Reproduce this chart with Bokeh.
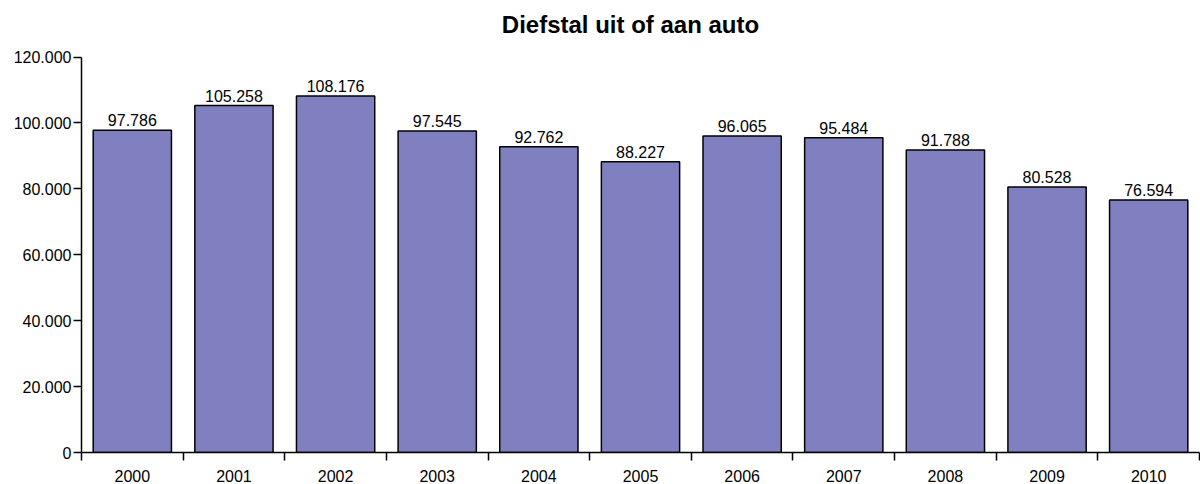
from bokeh.plotting import figure
from bokeh.models import Range1d, FixedTicker, ColumnDataSource, Label
from bokeh.core.properties import value
from bokeh.embed import file_html
from bokeh.resources import INLINE

# ---- data ----
years = ["2000", "2001", "2002", "2003", "2004", "2005", "2006", "2007", "2008", "2009", "2010"]
counts = [97786, 105258, 108176, 97545, 92762, 88227, 96065, 95484, 91788, 80528, 76594]
y_ticks = [0, 20000, 40000, 60000, 80000, 100000, 120000]
title_text = "Diefstal uit of aan auto"


def nl(v):
    return f"{v:,}".replace(",", ".")


centers = [i + 0.5 for i in range(len(years))]
bounds = list(range(len(years) + 1))
labels = [nl(v) for v in counts]

src = ColumnDataSource(dict(x=centers, top=counts, lab=labels))

FONT = "Liberation Sans"

# ---- layout (pixels) ----
W, H = 1200, 484
LEFT, RIGHT, BOTTOM = 81, 1, 28
AXIS_TOP_PX = 57               # where the value axis ends (120.000)
frame_h = H - BOTTOM           # frame runs from the very top of the canvas
axis_px = frame_h - AXIS_TOP_PX
y_max = y_ticks[-1]
y_end = y_max * frame_h / axis_px
units_per_px = y_max / axis_px

p = figure(width=W, height=H, output_backend="svg", toolbar_location=None,
           x_range=Range1d(0, len(years)), y_range=Range1d(0, y_end),
           min_border_left=LEFT, min_border_right=RIGHT, min_border_top=0,
           min_border_bottom=BOTTOM, title_location=None)
p.outline_line_color = None
p.xgrid.visible = False
p.ygrid.visible = False
p.background_fill_color = "white"
p.border_fill_color = "white"

# title, drawn inside the (extended) frame above the value axis
frame_w = W - LEFT - RIGHT
title_x = (630 - LEFT) / frame_w * len(years)
title_y = y_end - 11 * units_per_px
p.add_layout(Label(x=title_x, y=title_y, text=title_text, text_align="center",
                   text_baseline="top", text_font=FONT, text_font_size="24px",
                   text_font_style="bold", text_color="black"))

p.vbar(x="x", top="top", width=0.77, source=src, fill_color="#8080C0",
       line_color="black", line_width=1.5)
p.text(x="x", y="top", text="lab", source=src, text_align="center",
       text_baseline="bottom", y_offset=-4, text_font=value(FONT),
       text_font_size="16px", text_color="black")

# x axis: labels at centres, ticks at category boundaries
xa = p.xaxis[0]
xa.ticker = FixedTicker(ticks=centers, minor_ticks=bounds)
xa.major_label_overrides = {c: y for c, y in zip(centers, years)}
xa.major_tick_out = 0
xa.major_tick_in = 0
xa.minor_tick_out = 8
xa.minor_tick_in = 0
xa.minor_tick_line_color = "black"
xa.minor_tick_line_width = 1.5
xa.major_label_standoff = 9
xa.axis_line_color = "black"
xa.axis_line_width = 1.5

ya = p.yaxis[0]
ya.bounds = (0, y_max)
ya.ticker = FixedTicker(ticks=y_ticks, minor_ticks=[])
ya.major_label_overrides = {t: nl(t) for t in y_ticks}
ya.major_tick_out = 8
ya.major_tick_in = 0
ya.major_tick_line_color = "black"
ya.major_tick_line_width = 1.5
ya.minor_tick_out = 0
ya.minor_tick_in = 0
ya.major_label_standoff = 2
ya.axis_line_color = "black"
ya.axis_line_width = 1.5

for ax in (xa, ya):
    ax.major_label_text_font = FONT
    ax.major_label_text_font_size = "16px"
    ax.major_label_text_color = "black"

open("out.html", "w").write(file_html(p, INLINE))
